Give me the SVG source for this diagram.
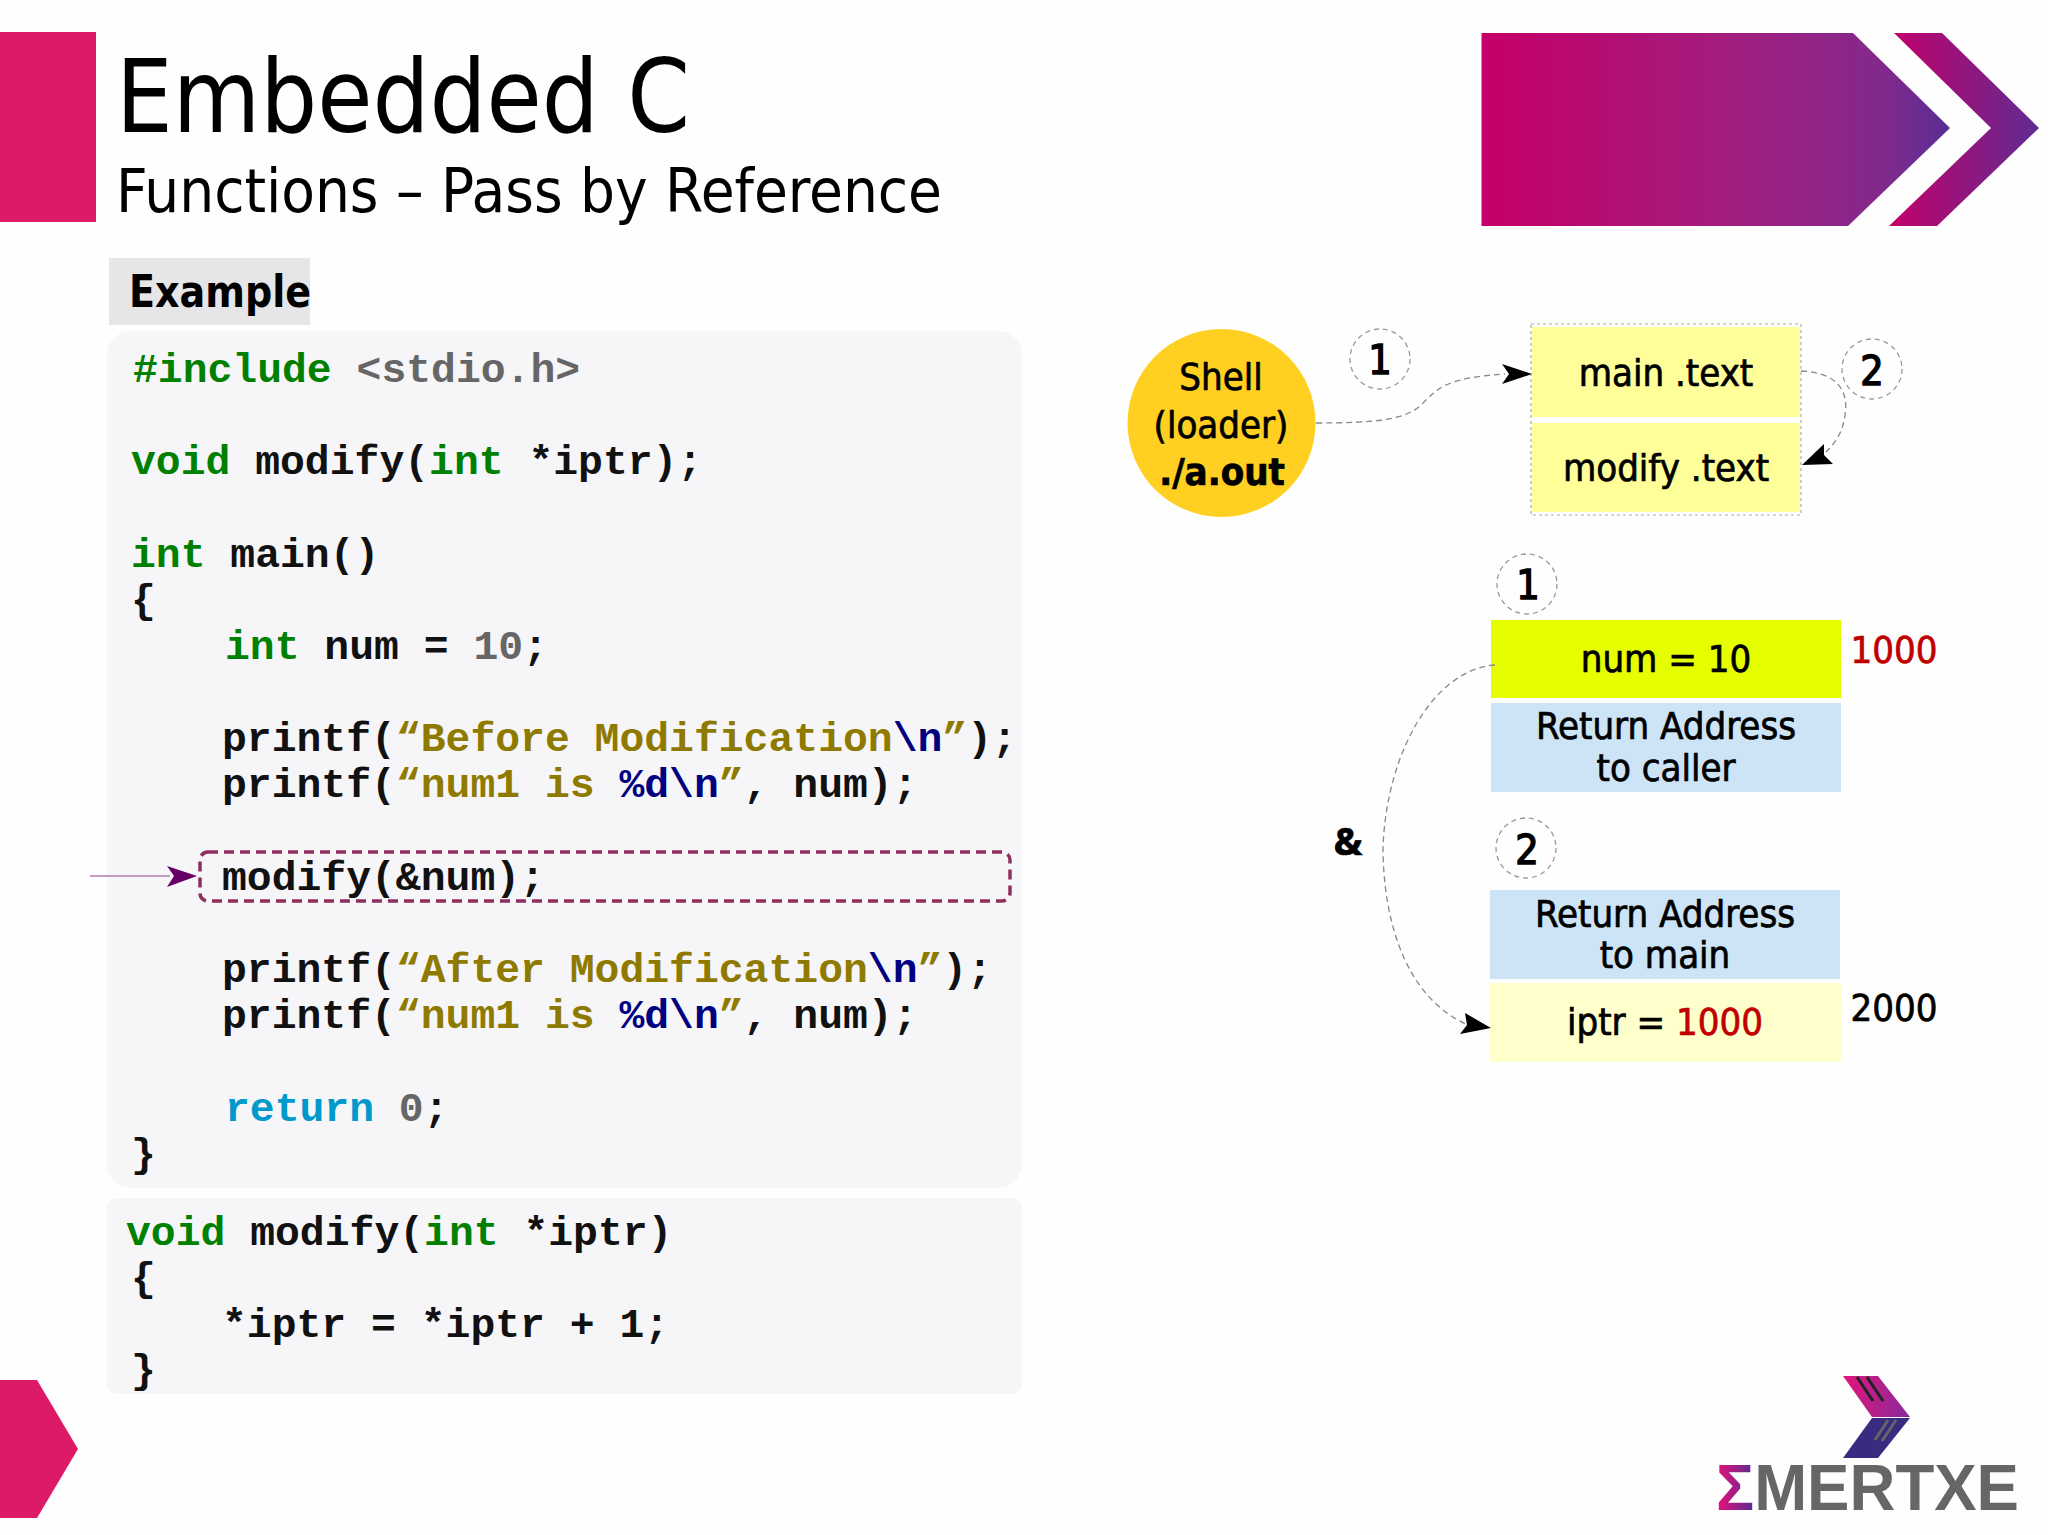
<svg xmlns="http://www.w3.org/2000/svg" width="2048" height="1535" viewBox="0 0 2048 1535">
<defs>
<style>
.code{font-family:"Liberation Mono",monospace;font-size:41.4px;font-weight:bold;fill:#111;white-space:pre}
.k{fill:#008000}.s{fill:#8f7a00}.e{fill:#000080}.n{fill:#666}.r{fill:#0099cc}
.lbl{font-family:"DejaVu Sans Condensed","DejaVu Sans",sans-serif;font-size:38px;fill:#000;text-anchor:middle;stroke:#000;stroke-width:.7}
.step{font-size:41px;stroke-width:1.4}
.head{font-family:"DejaVu Sans Condensed","DejaVu Sans",sans-serif;fill:#000}
.conn{fill:none;stroke:#888;stroke-width:1.3;stroke-dasharray:6 4}
.num{fill:none;stroke:#999;stroke-width:1.3;stroke-dasharray:5 4}
.red{fill:#c00000;stroke:#c00000}
</style>
<linearGradient id="g1" gradientUnits="userSpaceOnUse" x1="1500" y1="128" x2="1950" y2="128"><stop offset="0" stop-color="#c4006a"/><stop offset=".5" stop-color="#a31d7d"/><stop offset=".85" stop-color="#82298c"/><stop offset="1" stop-color="#582d93"/></linearGradient>
<linearGradient id="g2" gradientUnits="userSpaceOnUse" x1="1890" y1="128" x2="2039" y2="128"><stop offset="0" stop-color="#c4006a"/><stop offset="1" stop-color="#5f2c92"/></linearGradient>
<linearGradient id="g3" gradientUnits="userSpaceOnUse" x1="1843" y1="1390" x2="1910" y2="1400"><stop offset="0" stop-color="#e0167c"/><stop offset="1" stop-color="#8a2a9a"/></linearGradient>
<linearGradient id="g4" gradientUnits="userSpaceOnUse" x1="1717" y1="1487" x2="1753" y2="1487"><stop offset="0" stop-color="#e8107a"/><stop offset="1" stop-color="#5a2c90"/></linearGradient>
</defs>
<rect width="2048" height="1535" fill="#fefefe"/>

<g id="header">
<rect x="0" y="32" width="96" height="190" fill="#dc1a68"/>
<text class="head" x="116" y="132" font-size="102" textLength="574" lengthAdjust="spacingAndGlyphs">Embedded C</text>
<text class="head" x="116" y="212" font-size="60" textLength="826" lengthAdjust="spacingAndGlyphs">Functions – Pass by Reference</text>
<polygon points="1481.5,33 1853,33 1950,128 1848,226 1481.5,226" fill="url(#g1)"/>
<polygon points="1894,33 1942,33 2039,128 1937,226 1889,226 1991,128" fill="url(#g2)"/>
<polygon points="0,1380 37,1380 78,1449 37,1518 0,1518" fill="#dc1a68"/>
</g>

<g id="example-tab">
<rect x="109" y="258" width="201" height="67" fill="#e6e5e8"/>
<text class="head" x="129" y="307" font-size="45" font-weight="bold" textLength="182" lengthAdjust="spacingAndGlyphs">Example</text>
</g>

<g id="code-main">
<rect x="107" y="331" width="915" height="857" rx="24" fill="#f6f5f8"/>
<text class="code" x="133" y="382"><tspan class="k">#include</tspan><tspan class="n" xml:space="preserve"> &lt;stdio.h&gt;</tspan></text>
<text class="code" x="131" y="474"><tspan class="k">void</tspan> modify(<tspan class="k">int</tspan> *iptr);</text>
<text class="code" x="131" y="567"><tspan class="k">int</tspan> main()</text>
<text class="code" x="131" y="613">{</text>
<text class="code" x="225" y="659"><tspan class="k">int</tspan> num = <tspan class="n">10</tspan>;</text>
<text class="code" x="222" y="751">printf(<tspan class="s">“Before Modification</tspan><tspan class="e">\n</tspan><tspan class="s">”</tspan>);</text>
<text class="code" x="222" y="797">printf(<tspan class="s">“num1 is </tspan><tspan class="e">%d\n</tspan><tspan class="s">”</tspan>, num);</text>
<text class="code" x="222" y="890">modify(&amp;num);</text>
<text class="code" x="222" y="982">printf(<tspan class="s">“After Modification</tspan><tspan class="e">\n</tspan><tspan class="s">”</tspan>);</text>
<text class="code" x="222" y="1028">printf(<tspan class="s">“num1 is </tspan><tspan class="e">%d\n</tspan><tspan class="s">”</tspan>, num);</text>
<text class="code" x="225" y="1121"><tspan class="r">return</tspan><tspan class="n"> 0</tspan>;</text>
<text class="code" x="131" y="1167">}</text>
<rect x="200" y="852" width="810" height="49" rx="8" fill="none" stroke="#8e2f5e" stroke-width="3.5" stroke-dasharray="10 6"/>
</g>

<g id="code-modify">
<rect x="107" y="1198" width="915" height="196" rx="10" fill="#f6f5f8"/>
<text class="code" x="126" y="1245"><tspan class="k">void</tspan> modify(<tspan class="k">int</tspan> *iptr)</text>
<text class="code" x="131" y="1291">{</text>
<text class="code" x="222" y="1337">*iptr = *iptr + 1;</text>
<text class="code" x="131" y="1383">}</text>
</g>

<g id="shell">
<circle cx="1221.5" cy="423" r="94" fill="#ffd022"/>
<text class="lbl" x="1221" y="390" font-size="45">Shell</text>
<text class="lbl" x="1221" y="438" font-size="41">(loader)</text>
<text class="lbl" x="1222" y="485" font-size="40" font-weight="bold">./a.out</text>
</g>

<g id="text-segment">
<rect x="1531" y="324" width="270" height="191" fill="none" stroke="#aaa" stroke-width="1.2" stroke-dasharray="3 3"/>
<rect x="1532" y="327" width="268" height="90" fill="#ffff99"/>
<text class="lbl" x="1666" y="386">main .text</text>
<rect x="1532" y="423" width="268" height="89" fill="#ffff99"/>
<text class="lbl" x="1666" y="481">modify .text</text>
</g>

<g id="step-1a"><circle class="num" cx="1380" cy="359" r="30"/><text class="lbl step" x="1380" y="374">1</text></g>
<g id="step-2a"><circle class="num" cx="1872" cy="369" r="30"/><text class="lbl step" x="1872" y="385">2</text></g>
<g id="step-1b"><circle class="num" cx="1527" cy="584" r="30"/><text class="lbl step" x="1528" y="599">1</text></g>
<g id="step-2b"><circle class="num" cx="1526" cy="848" r="30"/><text class="lbl step" x="1527" y="864">2</text></g>

<g id="frame-main">
<rect x="1491" y="620" width="350" height="78" fill="#e6ff00"/>
<text class="lbl" x="1666" y="672" font-size="37">num = 10</text>
<rect x="1491" y="703" width="350" height="89" fill="#cce4f5"/>
<text class="lbl" x="1666" y="739">Return Address</text>
<text class="lbl" x="1666" y="781">to caller</text>
<text class="lbl red" x="1894" y="663" font-size="36.5">1000</text>
</g>

<g id="frame-modify">
<rect x="1490" y="890" width="350" height="89" fill="#cce4f5"/>
<text class="lbl" x="1665" y="927">Return Address</text>
<text class="lbl" x="1665" y="968">to main</text>
<rect x="1490" y="983" width="351" height="79" fill="#ffffcc"/>
<text class="lbl" x="1665" y="1035" font-size="37">iptr = <tspan class="red">1000</tspan></text>
<text class="lbl" x="1894" y="1021" font-size="36.5">2000</text>
</g>

<g id="amp-label"><text class="lbl" x="1348" y="855" font-size="48" font-weight="bold" style="font-family:'Open Sans',sans-serif">&amp;</text></g>

<g id="connectors">
<path class="conn" d="M1316,423 C1375,423 1405,420 1421,405 C1438,388 1445,378 1505,374"/>
<polygon points="1532,374 1502,364 1509,374 1502,384" fill="#000"/>
<path class="conn" d="M1801,371 C1830,372 1850,385 1845,415 C1843,430 1838,440 1826,452"/>
<polygon points="1802,465 1824,444 1824,455 1833,464" fill="#000"/>
<path class="conn" d="M1495,665 C1430,670 1385,760 1383,850 C1384,930 1410,1000 1468,1025"/>
<polygon points="1491,1028 1465,1013 1467,1025 1460,1034" fill="#000"/>
<path d="M90,876 H170" stroke="#b07aac" stroke-width="1.4" fill="none"/>
<polygon points="197,876 167,866 174,876 167,887" fill="#660066"/>
</g>

<g id="logo">
<polygon points="1843,1376 1878,1376 1910,1417 1872,1417" fill="url(#g3)"/>
<polygon points="1872,1418 1910,1418 1878,1458 1843,1458" fill="#3a2a80"/>
<path d="M1857,1377 L1873,1401 M1867,1377 L1883,1401" stroke="#222" stroke-width="3" fill="none"/>
<path d="M1888,1420 L1875,1440 M1896,1420 L1882,1441" stroke="#666" stroke-width="3" fill="none"/>
<text x="1716" y="1510" font-family="'Liberation Sans',sans-serif" font-weight="bold" font-size="64" fill="#666" textLength="303" lengthAdjust="spacingAndGlyphs"><tspan fill="url(#g4)">Σ</tspan>MERTXE</text>
</g>
</svg>
